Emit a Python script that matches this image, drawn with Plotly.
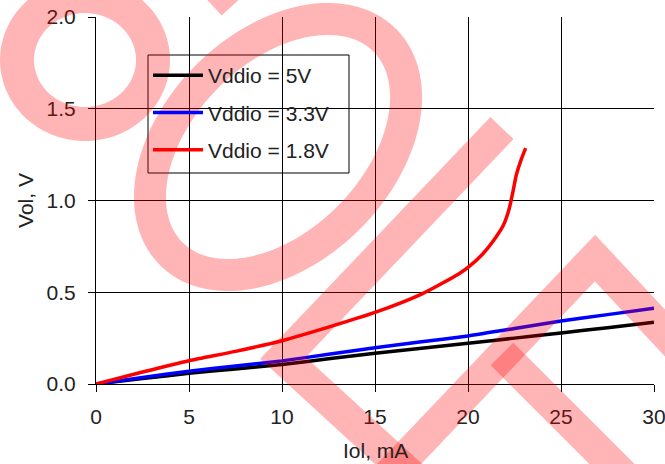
import numpy as np
import plotly.graph_objects as go

# ---------------- data ----------------
series_names = ["Vddio = 5V", "Vddio = 3.3V", "Vddio = 1.8V"]
series_colors = ["#000000", "#0000FF", "#FF0000"]

iol_5v = [0, 2.5, 5, 7.5, 10, 12.5, 15, 17.5, 20, 22.5, 25, 27.5, 30]
vol_5v = [0, 0.03, 0.058, 0.082, 0.106, 0.137, 0.168, 0.195, 0.222, 0.25, 0.278, 0.307, 0.336]

iol_3v3 = [0, 2.5, 5, 7.5, 10, 12.5, 15, 17.5, 20, 22.5, 25, 27.5, 30]
vol_3v3 = [0, 0.035, 0.07, 0.098, 0.126, 0.162, 0.198, 0.23, 0.262, 0.302, 0.343, 0.378, 0.413]

iol_1v8 = [0, 2.5, 5, 7.5, 10, 12.5, 15, 17.5, 19.5, 20, 20.8, 21.5, 21.9, 22.2, 22.4, 22.6, 22.85, 23.1]
vol_1v8 = [0, 0.065, 0.127, 0.178, 0.236, 0.31, 0.39, 0.49, 0.60, 0.635, 0.71, 0.80, 0.865, 0.95, 1.04, 1.14, 1.22, 1.285]

x_ticks = [0, 5, 10, 15, 20, 25, 30]
y_ticks = [0.0, 0.5, 1.0, 1.5, 2.0]
x_title = "Iol, mA"
y_title = "Vol, V"

# ---------------- layout geometry ----------------
W, H = 665, 464
ML, MR, MT, MB = 96, 11, 17, 80
PW, PH = W - ML - MR, H - MT - MB
FONT = "Liberation Sans, Arial, sans-serif"
TXT = "#222222"


def px(x):
    return (x - ML) / PW


def py(y):
    return 1 - (y - MT) / PH


def to_path(pts, close=False):
    s = "M " + " L ".join(f"{px(x):.4f},{py(y):.4f}" for x, y in pts)
    return s + (" Z" if close else "")


def ellipse_pts(cx, cy, a, b, ang_deg, n=120):
    th = np.radians(ang_deg)
    u = np.array([np.cos(th), -np.sin(th)])
    v = np.array([np.sin(th), np.cos(th)])
    t = np.linspace(0, 2 * np.pi, n, endpoint=False)
    return [tuple(np.array([cx, cy]) + a * np.cos(k) * u + b * np.sin(k) * v) for k in t]


fig = go.Figure()
for xs, ys, name, col in [
    (iol_5v, vol_5v, series_names[0], series_colors[0]),
    (iol_3v3, vol_3v3, series_names[1], series_colors[1]),
    (iol_1v8, vol_1v8, series_names[2], series_colors[2]),
]:
    fig.add_trace(go.Scatter(
        x=xs, y=ys, name=name, mode="lines", legendgroup=name,
        line=dict(color=col, width=3.5, shape="spline", smoothing=0.6),
    ))

# watermark (semi-transparent red stamp, drawn as strokes)
WM = "rgba(255,0,0,0.29)"
wm_paths = [
    (to_path(ellipse_pts(85, 60, 68, 64, 0), close=True), 34),
    (to_path([(206, -22), (232, 6)]), 28),
    (to_path(ellipse_pts(278, 147, 151, 100, 45), close=True), 32),
    (to_path([(502, 128), (283, 358), (416, 480)]), 32),
    (to_path([(381, 483), (595, 258), (720, 392)]), 32),
    (to_path([(502, 354), (652, 504)]), 32),
]
shapes = [
    # white legend box drawn between grid and traces
    dict(type="rect", xref="paper", yref="paper",
         x0=px(148), x1=px(349), y0=py(173), y1=py(55),
         fillcolor="white", line=dict(color="#000000", width=1), layer="between"),
]
for p, w in wm_paths:
    shapes.append(dict(type="path", path=p, xref="paper", yref="paper",
                       line=dict(color=WM, width=w),
                       fillcolor="rgba(0,0,0,0)", layer="above"))

axis_common = dict(
    showgrid=True, gridcolor="#000000", gridwidth=1,
    showline=True, linecolor="#000000", linewidth=1,
    ticks="outside", ticklen=7, tickcolor="#000000", tickwidth=1,
    zeroline=False, automargin=False, ticklabeloverflow="allow",
    tickfont=dict(family=FONT, size=21, color=TXT),
)

fig.update_layout(
    width=W, height=H,
    margin=dict(l=ML, r=MR, t=MT, b=MB, pad=0),
    paper_bgcolor="white", plot_bgcolor="white",
    font=dict(family=FONT, size=21, color=TXT),
    showlegend=True,
    legend=dict(
        x=px(148), y=py(55), xanchor="left", yanchor="top",
        bgcolor="rgba(0,0,0,0)", borderwidth=0,
        font=dict(family=FONT, size=21, color=TXT),
        itemwidth=50, traceorder="grouped", tracegroupgap=7,
    ),
    xaxis=dict(range=[0, 30], tickvals=x_ticks, ticklabelstandoff=7, **axis_common),
    yaxis=dict(range=[0, 2], tickvals=y_ticks, tickformat=".1f", ticklabelstandoff=8,
               title=dict(text=y_title, standoff=7,
                          font=dict(family=FONT, size=21, color=TXT)),
               **axis_common),
    annotations=[
        dict(text=x_title, xref="paper", yref="paper", x=0.5, y=py(450),
             xanchor="center", yanchor="middle", showarrow=False,
             font=dict(family=FONT, size=21, color=TXT)),
    ],
    shapes=shapes,
)

fig.write_html("out.html", config={"displayModeBar": False},
               post_script="document.body.style.margin='0px';")
